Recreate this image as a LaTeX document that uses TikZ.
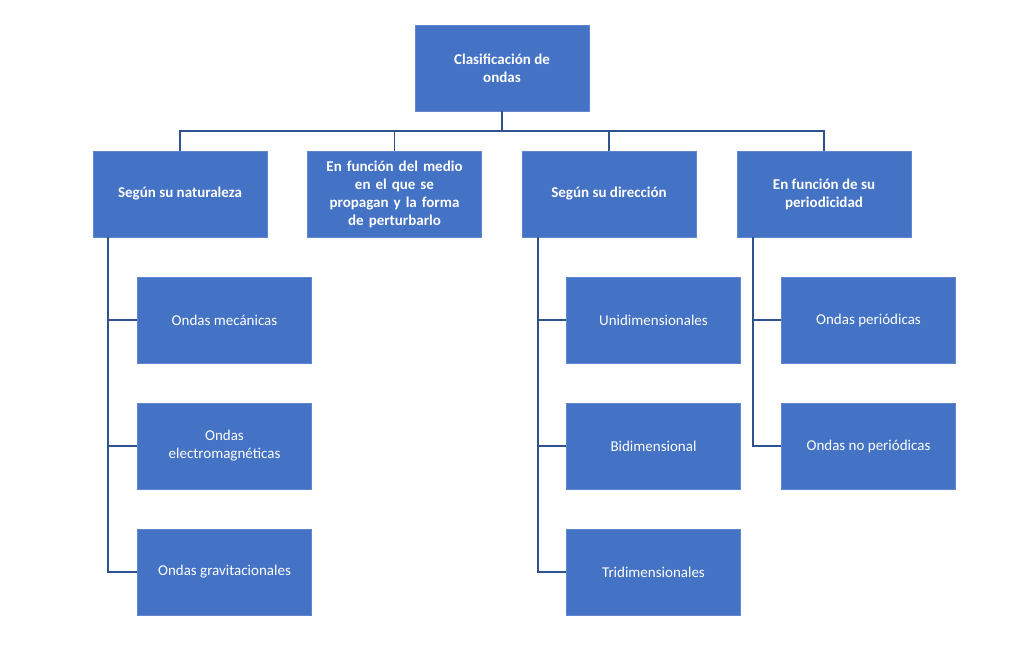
\documentclass[tikz,border=0pt]{standalone}
\usepackage{fontspec}
\setmainfont{Carlito}
\definecolor{boxblue}{HTML}{4472C4}
\definecolor{linec}{HTML}{2F528F}
\begin{document}
\begin{tikzpicture}[x=1pt,y=-1pt,
 bx/.style={fill=boxblue,draw=boxblue!85!white,text=white,minimum width=174pt,minimum height=86pt,align=center,inner sep=2pt,font=\fontsize{15}{18}\selectfont},
 hd/.style={bx,font=\fontsize{15}{18}\selectfont\bfseries},
 ln/.style={draw=linec,line width=1.4pt}]
\useasboundingbox[fill=white] (0,0) rectangle (1024,661);
\node[hd] (r) at (502,68) {Clasificación de\\ondas};
\node[hd] (a) at (180,194) {Según su naturaleza};
\node[hd,text width=170pt] (b) at (394.5,194) {En función del medio\\en el que se\\propagan y la forma\\de perturbarlo};
\node[hd] (c) at (609,194) {Según su dirección};
\node[hd] (d) at (824,194) {En función de su\\periodicidad};
\node[bx] (a1) at (224.5,320) {Ondas mecánicas};
\node[bx] (a2) at (224.5,446) {Ondas\\electromagnéticas};
\node[bx] (a3) at (224.5,572) {Ondas gravitacionales};
\node[bx] (c1) at (653.5,320) {Unidimensionales};
\node[bx] (c2) at (653.5,446) {Bidimensional};
\node[bx] (c3) at (653.5,572) {Tridimensionales};
\node[bx] (d1) at (868.5,320) {Ondas periódicas};
\node[bx] (d2) at (868.5,446) {Ondas no periódicas};
\coordinate (bus) at (502,131);
\draw[ln] (r.south) -- (bus);
\draw[ln] (a.north) -- (a.north|-bus) -- (d.north|-bus) -- (d.north);
\draw[ln] (b.north) -- (b.north|-bus);
\draw[ln] (c.north) -- (c.north|-bus);
\draw[ln] ([xshift=15pt]a.south west) |- (a3.west);
\draw[ln] ([xshift=15pt]a.south west|-a1.west) -- (a1.west);
\draw[ln] ([xshift=15pt]a.south west|-a2.west) -- (a2.west);
\draw[ln] ([xshift=16pt]c.south west) |- (c3.west);
\draw[ln] ([xshift=16pt]c.south west|-c1.west) -- (c1.west);
\draw[ln] ([xshift=16pt]c.south west|-c2.west) -- (c2.west);
\draw[ln] ([xshift=16pt]d.south west) |- (d2.west);
\draw[ln] ([xshift=16pt]d.south west|-d1.west) -- (d1.west);
\end{tikzpicture}
\end{document}
